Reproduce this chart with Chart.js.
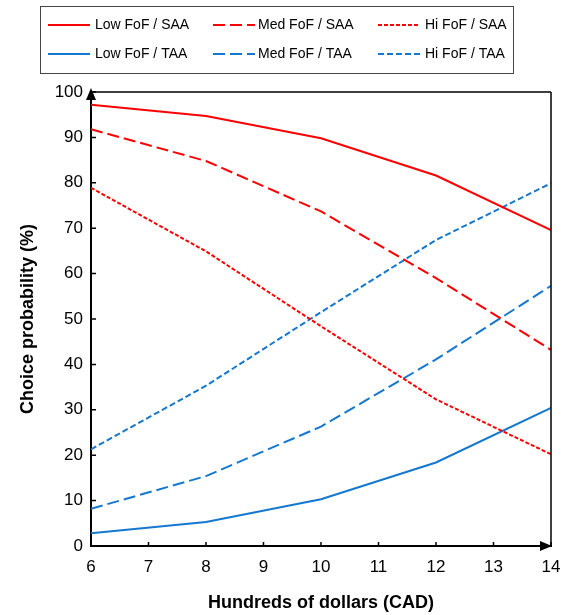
<!DOCTYPE html>
<html>
<head>
<meta charset="utf-8">
<script src="https://cdn.jsdelivr.net/npm/chart.js@4"></script>
<style>
  html, body { margin: 0; padding: 0; background: #fff; }
  #wrap { width: 562px; height: 615px; }
</style>
</head>
<body>
<div id="wrap"><canvas id="grafico" width="562" height="615"></canvas></div>
<script>
// valores
const xValores = [6, 8, 10, 12, 14];
const rotulos = ['Low FoF / SAA', 'Med FoF / SAA', 'Hi FoF / SAA', 'Low FoF / TAA', 'Med FoF / TAA', 'Hi FoF / TAA'];
const lowSAA = [97.2, 94.7, 89.8, 81.6, 69.6];
const medSAA = [91.8, 84.8, 73.7, 59.0, 43.2];
const hiSAA  = [78.9, 64.9, 48.4, 32.3, 20.2];
const lowTAA = [2.8, 5.3, 10.3, 18.4, 30.4];
const medTAA = [8.2, 15.4, 26.3, 41.1, 57.3];
const hiTAA  = [21.3, 35.3, 51.5, 67.4, 79.9];

const VERMELHO = '#ff0000';
const AZUL = '#1478d0';
const FONTE = "Arial, 'Liberation Sans', sans-serif";

function serie(label, valores, cor, dash) {
    return {
        label: label,
        data: xValores.map((x, i) => ({ x: x, y: valores[i] })),
        borderColor: cor,
        borderWidth: 2,
        borderDash: dash,
        pointRadius: 0,
        fill: false,
        tension: 0
    };
}

// ticks internos, setas, borda superior/direita e legenda
const extras = {
    id: 'extras',
    afterDraw(chart) {
        const ctx = chart.ctx;
        const a = chart.chartArea;
        const sx = chart.scales.x, sy = chart.scales.y;
        ctx.save();
        ctx.strokeStyle = '#000';
        ctx.lineWidth = 1.5;
        ctx.beginPath();
        ctx.moveTo(a.left, a.top); ctx.lineTo(a.right, a.top);
        ctx.moveTo(a.right, a.top); ctx.lineTo(a.right, a.bottom);
        ctx.stroke();

        ctx.lineWidth = 1.5;
        ctx.beginPath();
        sy.ticks.forEach(t => {
            const y = sy.getPixelForValue(t.value);
            ctx.moveTo(a.left, y); ctx.lineTo(a.left + 5, y);
        });
        sx.ticks.forEach(t => {
            const x = sx.getPixelForValue(t.value);
            ctx.moveTo(x, a.bottom); ctx.lineTo(x, a.bottom - 4);
        });
        ctx.stroke();

        // setas
        ctx.fillStyle = '#000';
        ctx.beginPath();
        ctx.moveTo(a.left, a.top - 4);
        ctx.lineTo(a.left - 5, a.top + 8);
        ctx.lineTo(a.left + 5, a.top + 8);
        ctx.closePath();
        ctx.fill();
        ctx.beginPath();
        ctx.moveTo(a.right + 1, a.bottom);
        ctx.lineTo(a.right - 11, a.bottom - 5);
        ctx.lineTo(a.right - 11, a.bottom + 5);
        ctx.closePath();
        ctx.fill();

        // legenda
        ctx.lineWidth = 1;
        ctx.strokeStyle = '#444';
        ctx.strokeRect(40.5, 6.5, 473, 67);
        ctx.font = '14px ' + FONTE;
        ctx.textBaseline = 'middle';
        ctx.fillStyle = '#000';
        chart.data.datasets.forEach((ds, i) => {
            const col = i % 3, row = Math.floor(i / 3);
            const x0 = 48 + col * 165;
            const y0 = 25 + row * 29;
            ctx.strokeStyle = ds.borderColor;
            ctx.lineWidth = 2;
            ctx.setLineDash(ds.borderDash || []);
            ctx.beginPath();
            ctx.moveTo(x0, y0); ctx.lineTo(x0 + 42, y0);
            ctx.stroke();
            ctx.setLineDash([]);
            ctx.fillText(ds.label, x0 + 47 - (col === 1 ? 2 : 0), y0);
        });
        ctx.restore();
    }
};

new Chart(document.getElementById('grafico').getContext('2d'), {
    type: 'line',
    data: {
        datasets: [
            serie(rotulos[0], lowSAA, VERMELHO, []),
            serie(rotulos[1], medSAA, VERMELHO, [12, 5]),
            serie(rotulos[2], hiSAA, VERMELHO, [4, 2]),
            serie(rotulos[3], lowTAA, AZUL, []),
            serie(rotulos[4], medTAA, AZUL, [12, 5]),
            serie(rotulos[5], hiTAA, AZUL, [6, 3])
        ]
    },
    options: {
        responsive: false,
        animation: false,
        layout: { padding: { left: 0, top: 92, right: 11, bottom: 0 } },
        plugins: { legend: { display: false }, tooltip: { enabled: false } },
        scales: {
            x: {
                type: 'linear',
                min: 6, max: 14,
                afterFit: s => { s.height = 69; s.paddingRight = 0; s.paddingLeft = 0; },
                ticks: { stepSize: 1, padding: 11, color: '#000', font: { family: FONTE, size: 17 } },
                grid: { display: false, drawTicks: false },
                border: { color: '#000', width: 2 },
                title: {
                    display: true, text: 'Hundreds of dollars (CAD)', color: '#000',
                    font: { family: FONTE, size: 18, weight: 'bold' },
                    padding: { top: 0, bottom: 1 }
                }
            },
            y: {
                min: 0, max: 100,
                afterFit: s => { s.width = 91; s.paddingTop = 0; s.paddingBottom = 0; },
                ticks: { stepSize: 10, padding: 8, color: '#000', font: { family: FONTE, size: 17 } },
                grid: { display: false, drawTicks: false },
                border: { color: '#000', width: 2 },
                title: {
                    display: true, text: 'Choice probability (%)', color: '#000',
                    font: { family: FONTE, size: 18, weight: 'bold' },
                    padding: { top: 17, bottom: 0 }
                }
            }
        }
    },
    plugins: [extras]
});
</script>
</body>
</html>
